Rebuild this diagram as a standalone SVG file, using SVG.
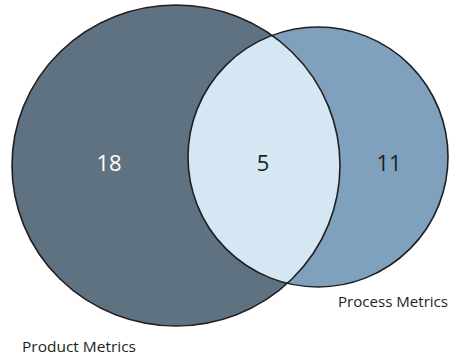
<svg xmlns="http://www.w3.org/2000/svg" width="449" height="358" viewBox="0 0 449 358">
<style>
.ol{fill:none;stroke:#231f20;stroke-width:1.6}
.num{font-family:"Open Sans","Liberation Sans",sans-serif;font-size:22px;text-anchor:middle}
.lbl{font-family:"Open Sans","Liberation Sans",sans-serif;font-size:14px;fill:#231f20}
</style>
<defs>
<clipPath id="cr"><circle cx="318" cy="157" r="130"/></clipPath>
</defs>
<g id="product">
<ellipse cx="176" cy="165.5" rx="164" ry="160.5" fill="#5f7282"/>
</g>
<g id="process">
<circle cx="318" cy="157" r="130" fill="#7fa1be"/>
</g>
<g id="overlap">
<ellipse cx="176" cy="165.5" rx="164" ry="160.5" fill="#d4e7f3" clip-path="url(#cr)"/>
</g>
<g id="outlines">
<ellipse class="ol" cx="176" cy="165.5" rx="164" ry="160.5"/>
<circle class="ol" cx="318" cy="157" r="130"/>
</g>
<g id="labels">
<text class="num" x="109" y="171" fill="#ffffff">18</text>
<text class="num" x="263" y="171" fill="#231f20">5</text>
<text class="num" x="389" y="171" fill="#231f20">11</text>
<text class="lbl" x="338" y="307" textLength="110" lengthAdjust="spacingAndGlyphs">Process Metrics</text>
<text class="lbl" x="22" y="352" textLength="114" lengthAdjust="spacingAndGlyphs">Product Metrics</text>
</g>
</svg>
